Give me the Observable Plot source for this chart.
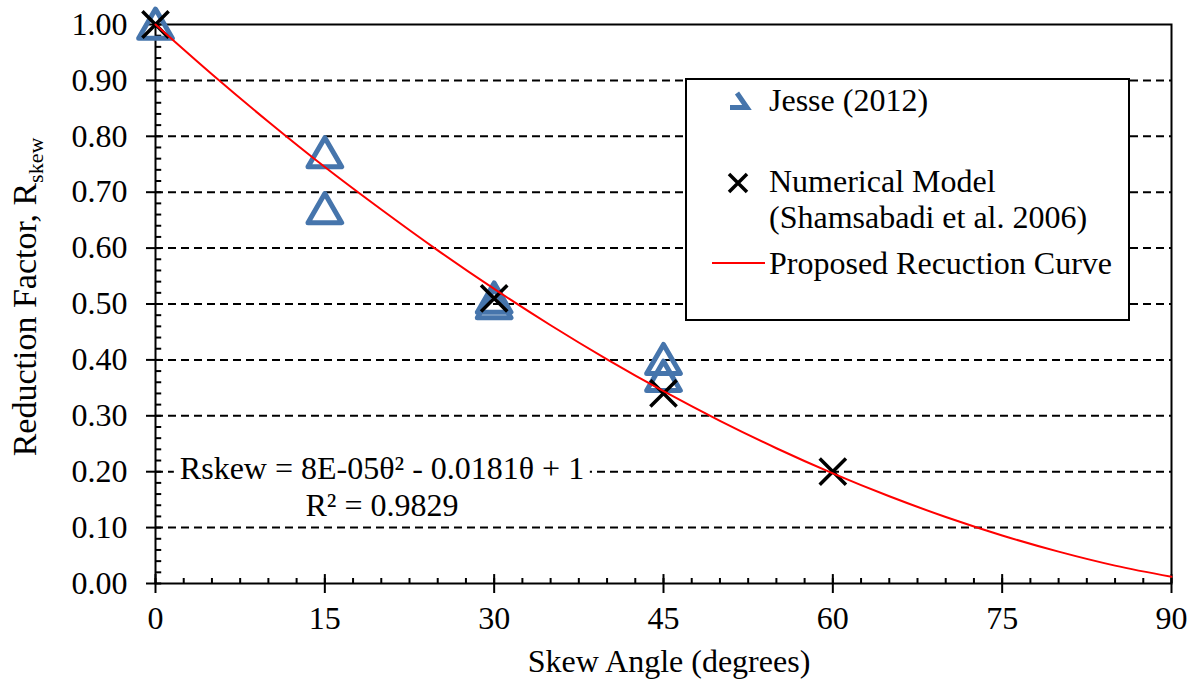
<!DOCTYPE html>
<html><head><meta charset="utf-8">
<script src="https://cdn.jsdelivr.net/npm/d3@7"></script>
<script src="https://cdn.jsdelivr.net/npm/@observablehq/plot@0.6"></script>
<style>
body{margin:0;background:#fff;}
#wrap{position:relative;width:1192px;height:681px;font-family:"Liberation Serif","Times New Roman",serif;color:#000;}
.ov{position:absolute;white-space:nowrap;font-size:32px;line-height:32px;}
</style></head><body><div id="wrap"></div>
<script>
// Jesse (2012) test data
const jesseAngle = [0, 15, 15, 30, 30, 45, 45];
const jesseR     = [1.00, 0.77, 0.67, 0.51, 0.50, 0.40, 0.37];
// Numerical model (Shamsabadi et al. 2006)
const modelAngle = [0, 30, 45, 60];
const modelR     = [1.00, 0.51, 0.34, 0.20];
// Proposed reduction curve
const curveAngle = [0, 5, 10, 15, 20, 25, 30, 35, 40, 45, 50, 55, 60, 65, 70, 75, 80, 85, 90];
const curveR     = [1.000, 0.911, 0.826, 0.745, 0.669, 0.596, 0.527, 0.462, 0.401, 0.344, 0.291, 0.242, 0.197, 0.156, 0.119, 0.086, 0.057, 0.032, 0.012];
// ticks
const xTicks = [0, 15, 30, 45, 60, 75, 90];
const yTicks = [0, 0.1, 0.2, 0.3, 0.4, 0.5, 0.6, 0.7, 0.8, 0.9, 1.0];
const yGrid  = [0.1, 0.2, 0.3, 0.4, 0.5, 0.6, 0.7, 0.8, 0.9];
const xMinor = d3.range(0, 90.001, 2.5);
const yMinor = d3.range(0, 1.0001, 0.02);

const jesse = jesseAngle.map((a, i) => ({angle: a, r: jesseR[i]}));
const model = modelAngle.map((a, i) => ({angle: a, r: modelR[i]}));
const curve = curveAngle.map((a, i) => ({angle: a, r: curveR[i]}));

const blue = "#4675AC";
const serif = '"Liberation Serif","Times New Roman",serif';

const chart = Plot.plot({
  width: 1192, height: 681,
  marginLeft: 155, marginRight: 21, marginTop: 24, marginBottom: 98,
  x: {domain: [0, 90]},
  y: {domain: [0, 1]},
  style: {fontFamily: serif, fontSize: "32px", color: "black", background: "white", overflow: "visible"},
  marks: [
    Plot.ruleY(yGrid, {stroke: "black", strokeWidth: 2, strokeDasharray: "8,5"}),
    Plot.ruleX(xMinor, {y1: 0, y2: 0.009, stroke: "black", strokeWidth: 2}),
    Plot.ruleY(yMinor, {x1: 0, x2: 0.55, stroke: "black", strokeWidth: 2}),
    Plot.ruleX(xTicks, {y1: 0, y2: 0.016, stroke: "black", strokeWidth: 2}),
    Plot.axisY({ticks: yTicks, tickFormat: d3.format(".2f"), tickSize: 9, tickPadding: 19, strokeWidth: 2, label: null, fontSize: 32, fontFamily: serif}),
    Plot.axisX({ticks: xTicks, tickFormat: d3.format("d"), tickSize: 10, tickPadding: 13, strokeWidth: 2, label: null, fontSize: 32, fontFamily: serif}),
    Plot.frame({stroke: "black", strokeWidth: 2}),
    Plot.dot(jesse, {x: "angle", y: "r", symbol: "triangle", r: 12.5, stroke: blue, strokeWidth: 5, fill: "none", dy: 4, strokeLinejoin: "round"}),
    Plot.dot(model, {x: "angle", y: "r", symbol: "times", r: 12, stroke: "black", strokeWidth: 3.5}),
    Plot.line(curve, {x: "angle", y: "r", stroke: "#FF0000", strokeWidth: 2, curve: "catmull-rom"})
  ]
});

const wrap = document.getElementById("wrap");
chart.style.position = "absolute";
chart.style.left = "0px";
chart.style.top = "0px";
wrap.appendChild(chart);

function addText(html, left, top, extra) {
  const d = document.createElement("div");
  d.className = "ov";
  d.innerHTML = html;
  d.style.left = left + "px";
  d.style.top = top + "px";
  if (extra) Object.assign(d.style, extra);
  wrap.appendChild(d);
  return d;
}

// Legend box
const leg = document.createElement("div");
Object.assign(leg.style, {position: "absolute", left: "685px", top: "78px", width: "445px", height: "243px", border: "2px solid black", background: "white", boxSizing: "border-box"});
wrap.appendChild(leg);
const ns = "http://www.w3.org/2000/svg";
const lsvg = document.createElementNS(ns, "svg");
lsvg.setAttribute("width", 1192); lsvg.setAttribute("height", 681);
Object.assign(lsvg.style, {position: "absolute", left: "0px", top: "0px", pointerEvents: "none"});
lsvg.innerHTML =
  `<polyline points="737,93 747,107.5 730,107.5" fill="none" stroke="${blue}" stroke-width="5"/>` +
  `<path d="M729,174 L747,192 M729,192 L747,174" stroke="black" stroke-width="3.5" fill="none"/>` +
  `<line x1="712" y1="263" x2="765" y2="263" stroke="#FF0000" stroke-width="2"/>`;
wrap.appendChild(lsvg);

addText("Jesse (2012)", 769, 84);
addText("Numerical Model", 769, 165);
addText("(Shamsabadi et al. 2006)", 769, 201);
addText("Proposed Recuction Curve", 769, 247);

// Trendline equation
addText("Rskew = 8E-05θ² - 0.0181θ + 1", 382, 452, {transform: "translateX(-50%)", background: "white", padding: "0 6px"});
addText("R² = 0.9829", 382, 489, {transform: "translateX(-50%)"});

// Axis titles
addText("Skew Angle (degrees)", 669, 645, {transform: "translateX(-50%)"});
addText('Reduction Factor, R<span style="font-size:22px;position:relative;top:7px">skew</span>', 27, 297, {transform: "translate(-50%,-50%) rotate(-90deg)", fontSize: "34px", lineHeight: "34px"});
</script></body></html>
